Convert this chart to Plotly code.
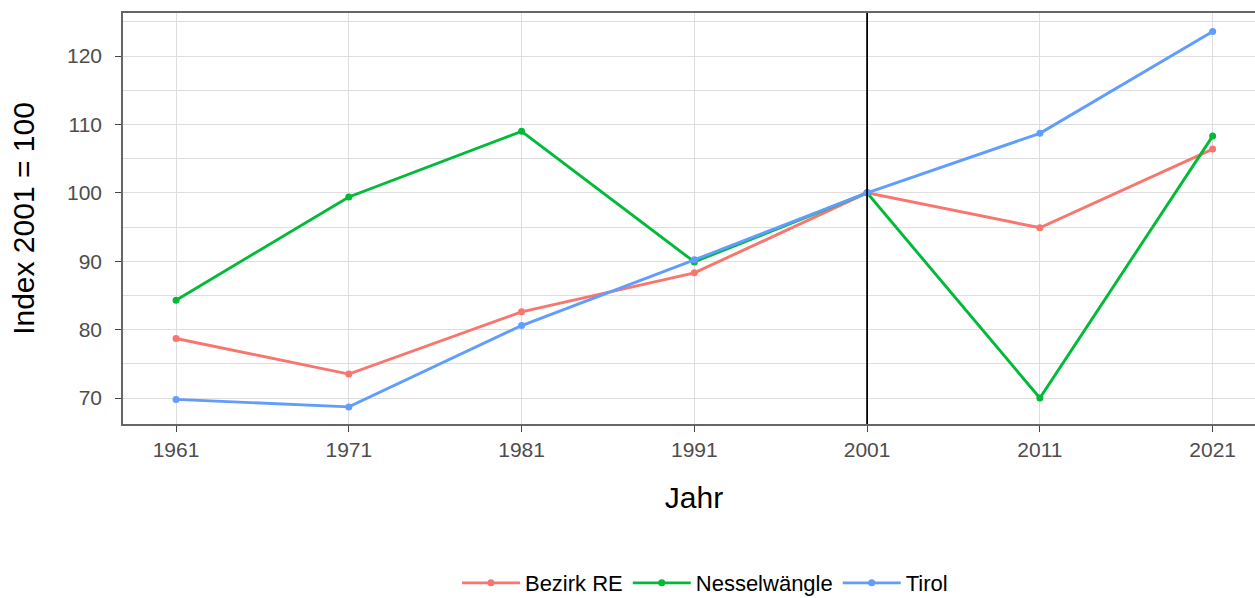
import plotly.graph_objects as go

years = [1961, 1971, 1981, 1991, 2001, 2011, 2021]
bezirk_re = [78.7, 73.5, 82.6, 88.3, 100.0, 94.9, 106.4]
nesselwaengle = [84.3, 99.4, 109.0, 89.9, 100.0, 70.0, 108.3]
tirol = [69.8, 68.7, 80.6, 90.2, 100.0, 108.7, 123.6]
series_names = ["Bezirk RE", "Nesselwängle", "Tirol"]
series_colors = ["#F8766D", "#00BA38", "#619CFF"]
ref_year = 2001
y_ticks = [70, 80, 90, 100, 110, 120]
y_minor = [65, 75, 85, 95, 105, 115, 125]

FONT = "Liberation Sans, Arial, sans-serif"

fig = go.Figure()
for name, vals, col in zip(series_names, [bezirk_re, nesselwaengle, tirol], series_colors):
    fig.add_trace(go.Scatter(
        x=years, y=vals, name=name, mode="lines+markers",
        line=dict(color=col, width=2.9),
        marker=dict(color=col, size=7),
    ))

fig.add_vline(x=ref_year, line=dict(color="black", width=1.8))

axis_common = dict(
    showline=True, linecolor="#666666", linewidth=1.6, mirror=True,
    gridcolor="#DEDEDE", gridwidth=1,
    ticks="outside", ticklen=6, tickcolor="#444444", tickwidth=1.2,
    tickfont=dict(family=FONT, size=21, color="#4D4D4D"),
    zeroline=False, automargin=False,
)

fig.update_xaxes(
    range=[1957.93, 2024.03], tickvals=years, ticktext=[str(y) for y in years],
    ticklabelstandoff=0,
    title=dict(text="Jahr", font=dict(family=FONT, size=30, color="black"), standoff=27),
    **axis_common,
)
fig.update_yaxes(
    range=[66.2, 126.3], tickvals=y_ticks,
    ticklabelstandoff=9,
    minor=dict(tickvals=y_minor, showgrid=True, gridcolor="#DEDEDE", ticks=""),
    title=dict(text="Index 2001 = 100", font=dict(family=FONT, size=30, color="black"), standoff=23),
    **axis_common,
)

fig.update_layout(
    width=1267, height=598,
    margin=dict(l=123, r=2, t=13, b=174, autoexpand=False),
    plot_bgcolor="white", paper_bgcolor="white",
    font=dict(family=FONT, color="black"),
    legend=dict(orientation="h", x=0.5096, xanchor="center", y=-0.387, yanchor="middle",
                font=dict(family=FONT, size=22, color="black"),
                itemwidth=58, tracegroupgap=0),
    showlegend=True,
)

fig.write_html(
    "out.html",
    config={"displayModeBar": False},
    post_script="document.body.style.margin='0';document.body.style.overflow='hidden';"
                "document.documentElement.style.overflow='hidden';",
)
